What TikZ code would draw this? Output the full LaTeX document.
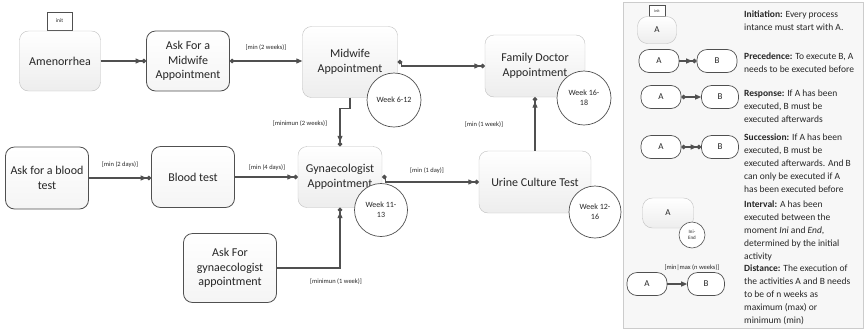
\documentclass[tikz,border=0pt]{standalone}
\usepackage{fontspec}
\setmainfont{Carlito}
\usetikzlibrary{arrows.meta}
\definecolor{ln}{HTML}{505050}
\definecolor{tx}{HTML}{262626}
\tikzset{
  base/.style={rounded corners=9pt, align=center, inner sep=2pt, text=tx,
    font=\fontsize{12}{14.5}\selectfont},
  lightbox/.style={base, draw=black!25, top color=white, bottom color=black!7},
  darkbox/.style={base, draw=ln, line width=0.8pt, top color=white, bottom color=black!4},
  week/.style={circle, draw=ln, line width=0.7pt, fill=white, inner sep=0pt, align=center,
    text=tx, font=\fontsize{8}{10}\selectfont},
  lbl/.style={font=\fontsize{6.5}{8}\selectfont, text=tx, inner sep=1pt},
  conn/.style={draw=ln, line width=1.1pt},
  prec/.style={conn, -{Triangle[length=6pt,width=5pt] Circle[length=4.5pt]}},
  resp/.style={conn, {Circle[length=4.5pt]}-{Triangle[length=6pt,width=5pt]}},
  succ/.style={conn, {Circle[length=4.5pt]}-{Triangle[length=6pt,width=5pt] Circle[length=4.5pt]}},
  dist/.style={conn, -{Triangle[length=6pt,width=5pt]}},
  lg/.style={rounded corners=10pt, minimum width=40pt, minimum height=23pt, inner sep=1pt,
    font=\fontsize{9}{11}\selectfont, text=tx},
  lgdark/.style={lg, draw=ln, line width=0.7pt, fill=white},
  lglight/.style={lg, draw=black!25, top color=white, bottom color=black!7},
  ltext/.style={anchor=north west, align=left, inner sep=0pt, text=tx,
    font=\fontsize{9.5}{13}\selectfont},
  initbox/.style={draw=ln, fill=white, inner sep=0pt, text=tx}
}
\begin{document}
\begin{tikzpicture}[x=1pt, y=-1pt]
\useasboundingbox (0,0) rectangle (866,333);

% legend background
\node[draw=black!20, fill=black!3, minimum width=240pt, minimum height=326pt, anchor=north west, inner sep=0pt] (legend) at (623,2) {};

% main nodes
\node[initbox, minimum width=25pt, minimum height=18pt, font=\fontsize{5.5}{6}\selectfont] (init) at (59.5,21) {init};
\node[lightbox, minimum width=81pt, minimum height=60pt] (amen) at (60,61) {Amenorrhea};
\node[darkbox, minimum width=83pt, minimum height=60pt] (askmid) at (188,61) {Ask For a\\Midwife\\Appointment};
\node[lightbox, minimum width=95pt, minimum height=71pt] (mid) at (350,62) {Midwife\\Appointment};
\node[lightbox, minimum width=100pt, minimum height=62pt] (fam) at (535,66) {Family Doctor\\Appointment};
\node[darkbox, minimum width=83pt, minimum height=62pt] (askblood) at (47,178) {Ask for a blood\\test};
\node[darkbox, minimum width=83pt, minimum height=61pt] (blood) at (193,177) {Blood test};
\node[lightbox, minimum width=84pt, minimum height=61pt] (gyn) at (340,177) {Gynaecologist\\Appointment};
\node[lightbox, minimum width=112pt, minimum height=62pt] (urine) at (535,182) {Urine Culture Test};
\node[darkbox, minimum width=93pt, minimum height=69pt] (askgyn) at (230,268) {Ask For\\gynaecologist\\appointment};

% connectors
\draw[prec] (amen.east) -- (askmid.west);
\draw[resp] (askmid.east) -- (askmid.east -| mid.west);
\node[lbl] (l1) at (266,48) {[min (2 weeks)]};
\coordinate (mj) at ([xshift=4pt]mid.east);
\draw[succ] (mid.east) -- (mj) |- (fam.west);
\coordinate (mg) at ([yshift=-11pt]mid.south);
\draw[prec] (mid.south) -- (mg) -| (gyn.north);
\node[lbl] (l2) at (300,124) {[minimun (2 weeks)]};
\draw[prec] (askblood.east) -- (askblood.east -| blood.west);
\node[lbl] (l3) at (120,165) {[min (2 days)]};
\draw[prec] (blood.east) -- (blood.east -| gyn.west);
\node[lbl] (l4) at (267,168) {[min (4 days)]};
\coordinate (gj) at ([xshift=3pt]gyn.east);
\draw[succ] (gyn.east) -- (gj) |- (urine.west);
\node[lbl] (l5) at (427,171) {[min (1 day)]};
\draw[prec] (urine.north) -- (fam.south);
\node[lbl] (l6) at (484,125) {[min (1 week)]};
\draw[prec] (askgyn.east) -| (gyn.south);
\node[lbl] (l7) at (336,282) {[minimun (1 week)]};

% week circles
\node[week, minimum size=54pt] (w1) at (394,100) {Week 6-12};
\node[week, minimum size=54pt] (w2) at (584,98) {Week 16-\\18};
\node[week, minimum size=53pt] (w3) at (381,210) {Week 11-\\13};
\node[week, minimum size=52pt] (w4) at (595,212) {Week 12-\\16};

% legend items
\node[initbox, minimum width=16pt, minimum height=11pt, font=\fontsize{4}{5}\selectfont] (linit) at (657,11) {init};
\node[lglight, minimum width=39pt, minimum height=27pt] (lA0) at (657,30) {A};
\node[ltext] (t1) at (744,11) {\textbf{Initiation:} Every process\\intance must start with A.};

\node[lgdark] (pA) at (659,61) {A};
\node[lgdark] (pB) at (717,61) {B};
\draw[prec] (pA) -- (pB);
\node[ltext] (t2) at (744,53) {\textbf{Precedence:} To execute B, A\\needs to be executed before};

\node[lgdark] (rA) at (661,97) {A};
\node[lgdark, minimum width=37pt] (rB) at (720,97) {B};
\draw[resp] (rA) -- (rB);
\node[ltext] (t3) at (744,90) {\textbf{Response:} If A has been\\executed, B must be\\executed afterwards};

\node[lgdark] (sA) at (661,147) {A};
\node[lgdark, minimum width=37pt] (sB) at (720,147) {B};
\draw[succ] (sA) -- (sB);
\node[ltext] (t4) at (744,134) {\textbf{Succession:} If A has been\\executed, B must be\\executed afterwards. And B\\can only be executed if A\\has been executed before};

\node[lglight, minimum width=51pt, minimum height=30pt] (iA) at (668,213) {A};
\node[week, minimum size=26pt, line width=0.6pt, font=\fontsize{5}{6}\selectfont] (iC) at (692,235) {Ini-\\End};
\node[ltext] (t5) at (744,201) {\textbf{Interval:} A has been\\executed between the\\moment \textit{Ini} and \textit{End},\\determined by the initial\\activity};

\node[lgdark] (dA) at (647,284) {A};
\node[lgdark, minimum width=37pt] (dB) at (706,284) {B};
\draw[dist] (dA) -- (dB);
\node[lbl] (l8) at (692,268) {[min|max (n weeks)]};
\node[ltext] (t6) at (744,265) {\textbf{Distance:} The execution of\\the activities A and B needs\\to be of n weeks as\\maximum (max) or\\minimum (min)};
\end{tikzpicture}
\end{document}
